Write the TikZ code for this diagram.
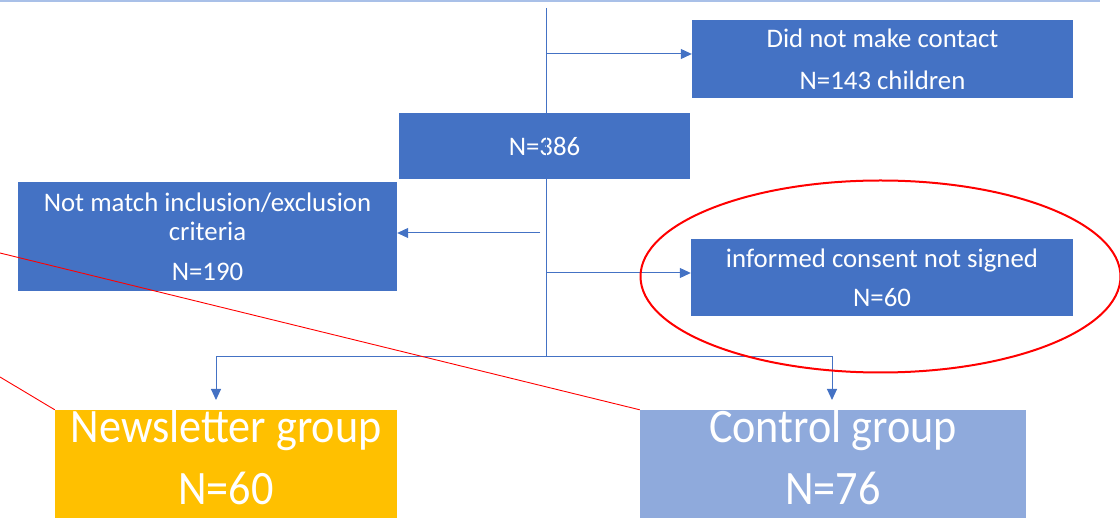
\documentclass[tikz,border=0pt]{standalone}
\usepackage{fontspec}
\setmainfont{Carlito}
\newfontfamily\groupfont[FakeStretch=0.92]{Carlito}
\usetikzlibrary{arrows.meta}
\definecolor{boxblue}{HTML}{4472C4}
\definecolor{newsyellow}{HTML}{FFC000}
\definecolor{ctrlblue}{HTML}{8FAADC}
\definecolor{topline}{HTML}{A9C0E8}
\definecolor{markred}{HTML}{FF0000}
\tikzset{
  bluebox/.style={fill=boxblue, draw=none, text=white, align=center, inner sep=0pt,
    font=\fontsize{26.8}{29}\selectfont},
  groupbox/.style={draw=none, inner sep=0pt},
  grouptext/.style={text=white, anchor=base, inner sep=0pt, font=\groupfont\fontsize{48}{52}\selectfont},
  conn/.style={draw=boxblue, line width=1pt},
  arr/.style={conn, -{Triangle[length=11pt,width=10pt]}},
  redline/.style={draw=markred, line width=0.9pt},
}
\begin{document}
\begin{tikzpicture}[x=1pt,y=-1pt]
\useasboundingbox (0,0) rectangle (1120,518);
\clip (0,0) rectangle (1120,518);
% top rule
\draw[topline, line width=1.5pt] (0,0.8) -- (1100,0.8);
% boxes
\node[bluebox, minimum width=381pt, minimum height=78pt] (dnc) at (882.5,59)
  {Did not make contact\\[13pt]N=143 children};
\node[bluebox, minimum width=291pt, minimum height=66pt] (n386) at (544.5,146) {N=386};
\node[bluebox, minimum width=379pt, minimum height=109pt] (nm) at (207.5,236.5)
  {Not match inclusion/exclusion\\criteria\\[11pt]N=190};
\node[bluebox, minimum width=382pt, minimum height=77pt] (ic) at (882,277.5)
  {informed consent not signed\\[10pt]N=60};
\node[groupbox, fill=newsyellow, minimum width=342pt, minimum height=130pt] (news) at (226,475) {};
\node[groupbox, fill=ctrlblue, minimum width=386pt, minimum height=130pt] (ctrl) at (833,475) {};
\node[grouptext] (newsA) at (226,443) {Newsletter group};
\node[grouptext] (newsB) at (226,505) {N=60};
\node[grouptext] (ctrlA) at (833,443) {Control group};
\node[grouptext] (ctrlB) at (833,505) {N=76};
% connectors
\coordinate (top) at (546,8);
\coordinate (j1) at (546,54);
\coordinate (j2) at (540,233);
\coordinate (j3) at (546,273);
\coordinate (j4) at (546,357);
\coordinate (tipL) at (216,400);
\coordinate (tipR) at (832,400);
\draw[conn] (top) -- (j4);
\draw[arr] (j1) -- (j1 -| dnc.west);
\draw[arr] (j2) -- (j2 -| nm.east);
\draw[arr] (j3) -- (j3 -| ic.west);
\draw[arr] (j4) -| (tipL);
\draw[arr] (j4) -| (tipR);
% red annotations
\coordinate (r1) at (0,253);
\coordinate (r2) at (0,377);
\draw[redline] (r1) -- (ctrl.north west);
\draw[redline] (r2) -- (news.north west);
\draw[markred, line width=2pt] (880.5,276.5) ellipse [x radius=240pt, y radius=96pt];
\end{tikzpicture}
\end{document}
